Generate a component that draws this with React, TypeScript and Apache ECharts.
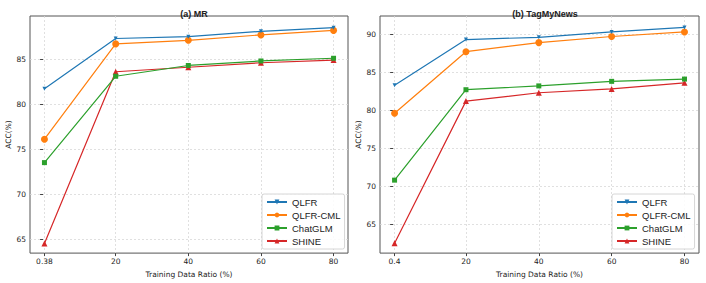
import React, { useEffect, useRef } from "react";
import * as echarts from "echarts";

const seriesNames = ["QLFR", "QLFR-CML", "ChatGLM", "SHINE"];
const colors = ["#1f77b4", "#ff7f0e", "#2ca02c", "#d62728"];

const mrX = [0.38, 20, 40, 60, 80];
const mrQLFR = [81.7, 87.3, 87.5, 88.1, 88.5];
const mrQLFRCML = [76.1, 86.7, 87.1, 87.7, 88.2];
const mrChatGLM = [73.5, 83.1, 84.3, 84.8, 85.1];
const mrSHINE = [64.5, 83.6, 84.1, 84.6, 84.9];
const mrYTicks = [65, 70, 75, 80, 85];

const tmX = [0.4, 20, 40, 60, 80];
const tmQLFR = [83.3, 89.3, 89.6, 90.3, 90.9];
const tmQLFRCML = [79.6, 87.7, 88.9, 89.7, 90.3];
const tmChatGLM = [70.8, 82.7, 83.2, 83.8, 84.1];
const tmSHINE = [62.5, 81.2, 82.3, 82.8, 83.6];
const tmYTicks = [65, 70, 75, 80, 85, 90];

const titles = ["(a) MR", "(b) TagMyNews"];

const symbols = [
  { symbol: "triangle", symbolRotate: 180, symbolSize: 4 },
  { symbol: "circle", symbolSize: 7 },
  { symbol: "rect", symbolSize: 5 },
  { symbol: "triangle", symbolRotate: 0, symbolSize: 6 },
];

export default function App() {
  const ref = useRef<HTMLDivElement>(null);
  useEffect(() => {
    document.body.style.margin = "0";
    const chart = echarts.init(ref.current!, null, { renderer: "svg" });
    const font = "DejaVu Sans";
    const sans = "Liberation Sans";
    const fs = 7.5;
    const mkX = (idx: number, ticks: number[]) => ({
      type: "value",
      gridIndex: idx,
      min: -3.6,
      max: 83.98,
      name: "Training Data Ratio (%)",
      nameLocation: "middle",
      nameGap: 16,
      nameTextStyle: { fontSize: fs, color: "#222", fontFamily: font },
      axisLine: { show: false },
      axisTick: { show: true, inside: false, length: 3, customValues: ticks, lineStyle: { color: "#444" } },
      axisLabel: { customValues: ticks, fontSize: fs, color: "#222", margin: 4, fontFamily: font, formatter: (v: number) => String(v) },
      splitLine: { show: true, lineStyle: { color: "#d8d8d8", type: [2, 2], width: 0.8 } },
    });
    const mkY = (idx: number, min: number, max: number, ticks: number[]) => ({
      type: "value",
      gridIndex: idx,
      min,
      max,
      name: "ACC(%)",
      nameLocation: "middle",
      nameGap: 18,
      nameTextStyle: { fontSize: fs, color: "#222", fontFamily: font },
      axisLine: { show: false },
      axisTick: { show: true, inside: false, length: 3, customValues: ticks, lineStyle: { color: "#444" } },
      axisLabel: { customValues: ticks, fontSize: fs, color: "#222", margin: 4, fontFamily: font },
      splitLine: { show: true, lineStyle: { color: "#d8d8d8", type: [2, 2], width: 0.8 } },
    });
    const mrData = [mrQLFR, mrQLFRCML, mrChatGLM, mrSHINE];
    const tmData = [tmQLFR, tmQLFRCML, tmChatGLM, tmSHINE];
    const series: any[] = [];
    [mrData, tmData].forEach((set, g) => {
      const xs = g === 0 ? mrX : tmX;
      set.forEach((vals, i) => {
        series.push({
          type: "line",
          name: seriesNames[i],
          xAxisIndex: g,
          yAxisIndex: g,
          data: vals.map((v, k) => [xs[k], v]),
          ...symbols[i],
          lineStyle: { width: 1.2, color: colors[i] },
          itemStyle: { color: colors[i] },
          z: 10 - i,
        });
      });
    });
    const mkLegend = (left: number) => ({
      orient: "vertical",
      left,
      top: 194,
      data: seriesNames,
      itemWidth: 20,
      itemHeight: 6,
      itemGap: 3,
      padding: [3, 4, 3, 4],
      borderColor: "#ccc",
      borderWidth: 0.8,
      borderRadius: 2,
      backgroundColor: "rgba(255,255,255,0.85)",
      textStyle: { fontSize: 9.5, color: "#222", fontFamily: sans },
      selectedMode: false,
    });
    chart.setOption({
      animation: false,
      title: [
        { text: titles[0], left: 189, top: 4, textAlign: "center", textStyle: { fontSize: 9, fontWeight: "bold", color: "#222", fontFamily: sans } },
        { text: titles[1], left: 540, top: 4, textAlign: "center", textStyle: { fontSize: 9, fontWeight: "bold", color: "#222", fontFamily: sans } },
      ],
      legend: [mkLegend(262), mkLegend(612)],
      grid: [
        { left: 30, right: 358, top: 16, bottom: 29, show: true, borderColor: "#555", borderWidth: 1, backgroundColor: "transparent" },
        { left: 380, right: 7, top: 16, bottom: 29, show: true, borderColor: "#555", borderWidth: 1, backgroundColor: "transparent" },
      ],
      xAxis: [mkX(0, mrX), mkX(1, tmX)],
      yAxis: [mkY(0, 63.44, 89.8, mrYTicks), mkY(1, 61.2, 92.4, tmYTicks)],
      series,
    });
    return () => chart.dispose();
  }, []);
  return <div ref={ref} style={{ width: 706, height: 283 }} />;
}
